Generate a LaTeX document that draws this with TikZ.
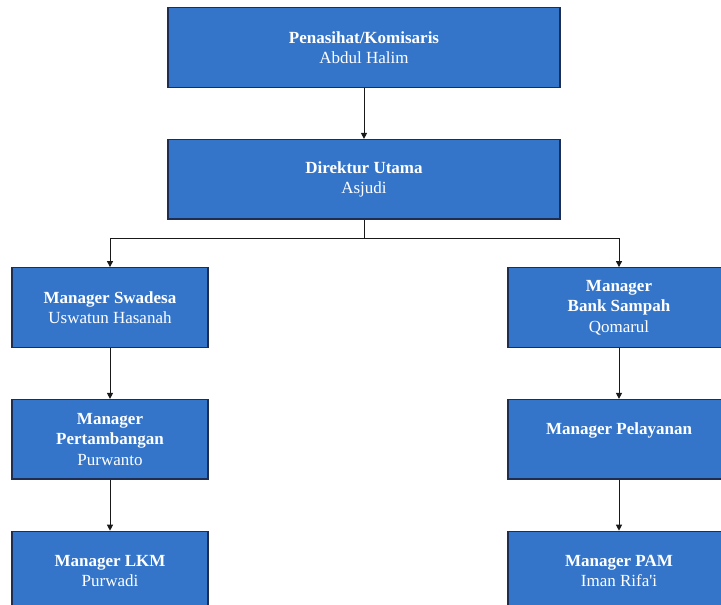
\documentclass[tikz,border=0pt]{standalone}
\usepackage{fontspec}
\setmainfont{Liberation Serif}
\usepackage{tikz}
\usetikzlibrary{positioning, arrows.meta}
\definecolor{boxblue}{RGB}{52,117,202}
\definecolor{boxline}{RGB}{30,46,82}
\tikzset{
	jabatan/.style={draw=boxline, line width=1.3pt, fill=boxblue, text=white, align=center,
		inner sep=0pt, minimum height=79.5pt, font=\fontsize{17}{20.5}\selectfont},
	garis/.style={draw=black!90, line width=1pt, -{Triangle[length=6pt,width=6pt]}}
}

\begin{document}
\begin{tikzpicture}[x=1pt,y=1pt,node distance=51pt]
				\useasboundingbox (0,0) rectangle (721,-605);
				\clip (0,0) rectangle (721,-605);
				\node[jabatan, minimum width=392pt] (kom) at (364,-47.5) {\textbf{Penasihat/Komisaris}\\Abdul Halim};
				\node[jabatan, minimum width=392pt, below=of kom] (dir) {\textbf{Direktur Utama}\\Asjudi};
				\coordinate[below=19pt of dir] (cab);
				\node[jabatan, minimum width=196pt] (m1) at (110,-307.5) {\textbf{Manager Swadesa}\\Uswatun Hasanah};
				\node[jabatan, minimum width=196pt, below=of m1] (m2) {\textbf{Manager}\\\textbf{Pertambangan}\\Purwanto};
				\node[jabatan, minimum width=196pt, below=of m2] (m3) {\textbf{Manager LKM}\\Purwadi};
				\node[jabatan, minimum width=222pt] (m4) at (619,-307.5) {\textbf{Manager}\\\textbf{Bank Sampah}\\Qomarul};
				\node[jabatan, minimum width=222pt, below=of m4] (m5) {\textbf{Manager Pelayanan}\\\mbox{}};
				\node[jabatan, minimum width=222pt, below=of m5] (m6) {\textbf{Manager PAM}\\Iman Rifa\textquotesingle i};
				\draw[garis] (kom) -- (dir);
				\draw[draw=black!90, line width=1pt] (dir) -- (cab);
				\draw[garis] (cab) -| (m1);
				\draw[garis] (cab) -| (m4);
				\draw[garis] (m1) -- (m2);
				\draw[garis] (m2) -- (m3);
				\draw[garis] (m4) -- (m5);
				\draw[garis] (m5) -- (m6);
			\end{tikzpicture}
\end{document}
